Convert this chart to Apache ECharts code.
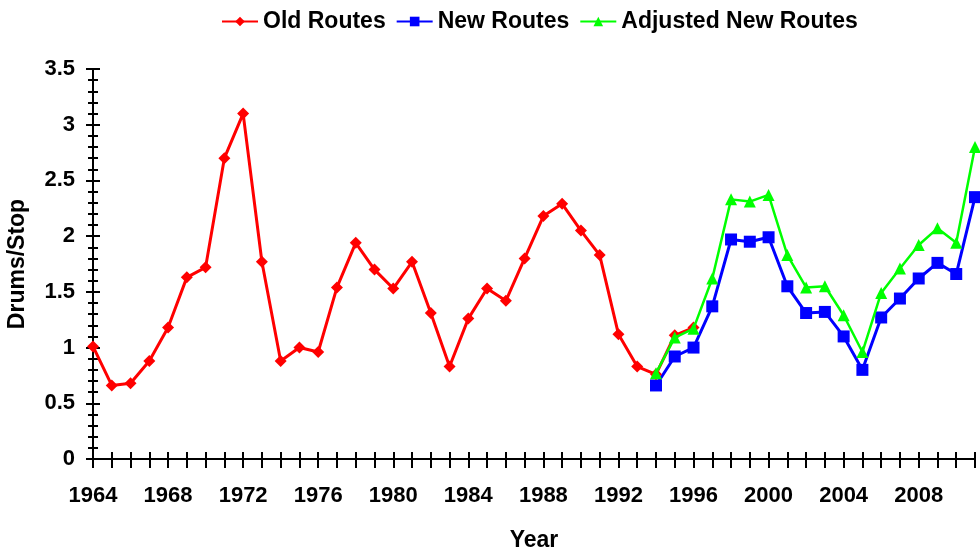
<!DOCTYPE html>
<html>
<head>
<meta charset="utf-8">
<script src="https://cdn.jsdelivr.net/npm/echarts@6/dist/echarts.min.js"></script>
<style>
  html, body { margin: 0; padding: 0; background: #fff; }
  #main { width: 980px; height: 550px; }
</style>
</head>
<body>
<div id="main"></div>
<script type="text/javascript">
    // years on the x axis
    var years = [];
    for (var y = 1964; y <= 2011; y++) { years.push(String(y)); }

    // Old Routes, 1964 - 1996
    var oldRoutes = [1.01, 0.66, 0.68, 0.88, 1.18, 1.63, 1.72, 2.70, 3.10, 1.77,
                     0.88, 1.00, 0.96, 1.54, 1.94, 1.70, 1.53, 1.77, 1.31, 0.83,
                     1.26, 1.53, 1.42, 1.80, 2.18, 2.29, 2.05, 1.83, 1.12, 0.83,
                     0.76, 1.11, 1.18];

    // New Routes, 1994 - 2011
    var newRoutes = [0.66, 0.92, 1.00, 1.37, 1.97, 1.95, 1.99, 1.55, 1.31, 1.32,
                     1.10, 0.80, 1.27, 1.44, 1.62, 1.76, 1.66, 2.35];

    // Adjusted New Routes, 1994 - 2011
    var adjustedRoutes = [0.77, 1.09, 1.17, 1.62, 2.33, 2.31, 2.37, 1.83, 1.54, 1.55,
                          1.29, 0.96, 1.49, 1.71, 1.92, 2.07, 1.94, 2.80];

    function pad(values, startYear) {
        var out = [];
        for (var i = 0; i < years.length; i++) {
            var k = parseInt(years[i]) - startYear;
            out.push(k >= 0 && k < values.length ? values[k] : null);
        }
        return out;
    }

    var font = 'Liberation Sans';
    var tickStyle = { color: '#000', width: 2 };

    var chart = echarts.init(document.getElementById('main'));
    chart.setOption({
        animation: false,
        textStyle: { fontFamily: font },
        legend: {
            left: 216, top: 5,
            itemWidth: 36, itemHeight: 12, itemGap: 10,
            textStyle: { fontFamily: font, fontWeight: 'bold', fontSize: 23, color: '#000' },
            data: ['Old Routes', 'New Routes', 'Adjusted New Routes']
        },
        grid: { left: 93, right: 5, top: 69, bottom: 91, outerBoundsMode: 'none', containLabel: false },
        xAxis: [
            {
                type: 'category', data: years, boundaryGap: false,
                name: 'Year', nameLocation: 'middle', nameGap: 70,
                nameTextStyle: { fontFamily: font, fontWeight: 'bold', fontSize: 23, color: '#000' },
                axisLine: { lineStyle: { color: '#000', width: 2 } },
                axisTick: { interval: 0, length: 9, lineStyle: tickStyle },
                axisLabel: { interval: 3, margin: 26, fontFamily: font, fontWeight: 'bold', fontSize: 22, color: '#000' },
                splitLine: { show: false }
            },
            {
                type: 'category', data: years, boundaryGap: false, position: 'bottom',
                axisLine: { show: false },
                axisTick: { interval: 0, inside: true, length: 7, lineStyle: tickStyle },
                axisLabel: { show: false },
                splitLine: { show: false }
            }
        ],
        yAxis: [
            {
                type: 'value', min: 0, max: 3.5, interval: 0.5,
                name: 'Drums/Stop', nameLocation: 'middle', nameGap: 64,
                nameTextStyle: { fontFamily: font, fontWeight: 'bold', fontSize: 23, color: '#000' },
                axisLine: { show: true, lineStyle: { color: '#000', width: 2 } },
                axisTick: { show: true, length: 7, lineStyle: tickStyle },
                minorTick: { show: true, splitNumber: 5, length: 5, lineStyle: tickStyle },
                axisLabel: { margin: 18, fontFamily: font, fontWeight: 'bold', fontSize: 22, color: '#000' },
                splitLine: { show: false }
            },
            {
                type: 'value', min: 0, max: 3.5, interval: 0.5, position: 'left',
                axisLine: { show: false },
                axisTick: { show: true, inside: true, length: 7, lineStyle: tickStyle },
                minorTick: { show: true, splitNumber: 5, length: 5, lineStyle: tickStyle },
                axisLabel: { show: false },
                splitLine: { show: false }
            }
        ],
        series: [
            {
                name: 'Old Routes', type: 'line', data: pad(oldRoutes, 1964),
                color: '#ff0000', symbol: 'diamond', symbolSize: 12,
                lineStyle: { width: 3 }, z: 3
            },
            {
                name: 'New Routes', type: 'line', data: pad(newRoutes, 1994),
                color: '#0000ff', symbol: 'rect', symbolSize: 12,
                lineStyle: { width: 3 }, z: 2
            },
            {
                name: 'Adjusted New Routes', type: 'line', data: pad(adjustedRoutes, 1994),
                color: '#00ff00', symbol: 'triangle', symbolSize: 12,
                lineStyle: { width: 2.5 }, z: 4
            }
        ]
    });
</script>
</body>
</html>
